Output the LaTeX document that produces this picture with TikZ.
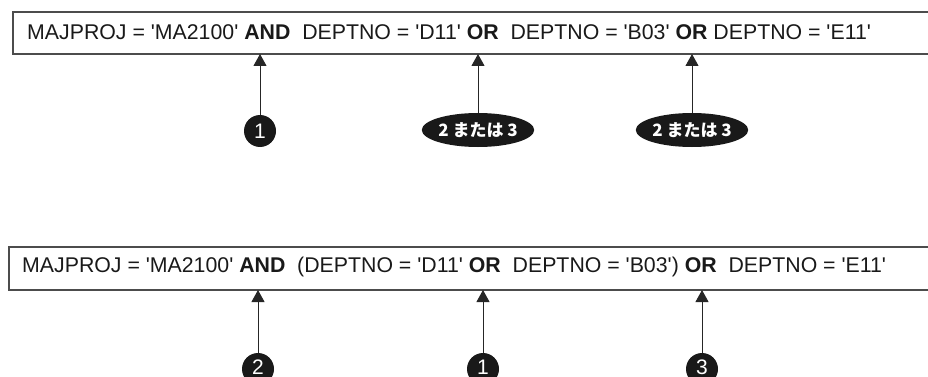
\documentclass[tikz,border=0pt]{standalone}
\usepackage{fontspec}
\setmainfont{Liberation Sans}
\newfontfamily\cjk{Noto Sans CJK JP}
\usetikzlibrary{arrows.meta,shapes.geometric}
\newcommand\qq{\textquotesingle}
\begin{document}
\begin{tikzpicture}[x=1pt,y=-1pt,
  exprbox/.style={draw=black!70,line width=1.1pt},
  exprtext/.style={anchor=base west,inner sep=0pt,font=\fontsize{21.3}{25}\selectfont,text=black!90},
  arr/.style={draw=black!85,line width=0.9pt,-{Triangle[width=13pt,length=12pt]}},
  numcirc/.style={circle,fill=black!90,minimum size=32pt,inner sep=0pt,text=white,font=\fontsize{21}{21}\selectfont},
  numell/.style={ellipse,fill=black!90,minimum width=97pt,minimum height=34pt,inner sep=0pt,text=white,font=\cjk\bfseries\fontsize{17}{17}\selectfont}
]
\useasboundingbox (0,0) rectangle (928,377);
\clip (0,0) rectangle (928,377);
% top
\draw[exprbox] (950,12) -- (13,12) -- (13,54) -- (950,54);
\coordinate (b1) at (13,54);
\node[exprtext] (t1) at (27,40) {MAJPROJ = \qq MA2100\qq\ \textbf{AND}\ \ DEPTNO = \qq D11\qq\ \textbf{OR}\ \ DEPTNO = \qq B03\qq\ \textbf{OR} DEPTNO = \qq E11\qq};
\node[numcirc] (a1) at (260,131) {1};
\node[numell] (a2) at (478,130) {2 または 3};
\node[numell] (a3) at (692,130) {2 または 3};
\foreach \n in {a1,a2,a3} \draw[arr] (\n.north) -- (\n.north |- b1);
% bottom
\draw[exprbox] (950,247) -- (9,247) -- (9,290) -- (950,290);
\coordinate (b2) at (9,290);
\node[exprtext] (t2) at (22,272) {MAJPROJ = \qq MA2100\qq\ \textbf{AND}\ \ (DEPTNO = \qq D11\qq\ \textbf{OR}\ \ DEPTNO = \qq B03\qq)\ \textbf{OR}\ \ DEPTNO = \qq E11\qq};
\node[numcirc] (c2) at (258,369) {\raisebox{4pt}{2}};
\node[numcirc] (c1) at (483,369) {\raisebox{4pt}{1}};
\node[numcirc] (c3) at (702,369) {\raisebox{4pt}{3}};
\foreach \n in {c1,c2,c3} \draw[arr] (\n.north) -- (\n.north |- b2);
\end{tikzpicture}
\end{document}
